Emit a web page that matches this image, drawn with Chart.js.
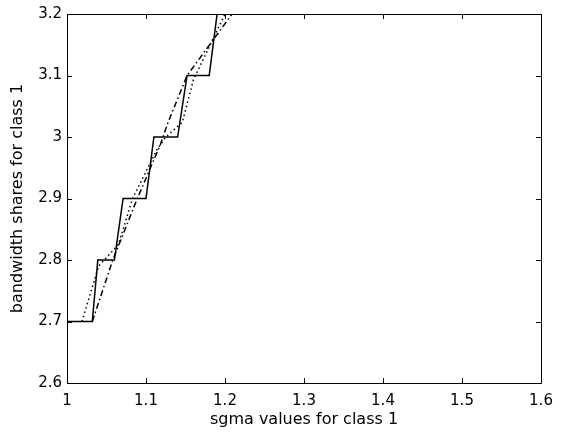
<!DOCTYPE html>
<html lang="en">
<head>
  <meta charset="UTF-8">
  <title>Bandwidth shares vs sigma</title>
  <script src="https://cdn.jsdelivr.net/npm/chart.js"></script>
  <style>
    html, body {
      margin: 0;
      padding: 0;
      background-color: #fff;
    }
    #chartContainer {
      width: 562px;
      height: 437px;
    }
  </style>
</head>
<body>
  <div id="chartContainer">
    <canvas id="shareChart" width="562" height="437"></canvas>
  </div>

  <script>
    // solid line: staircase of shares
    const stairX = [1, 1.032, 1.039, 1.06, 1.071, 1.10, 1.11, 1.14, 1.152, 1.18, 1.19, 1.6];
    const stairY = [2.7, 2.7, 2.8, 2.8, 2.9, 2.9, 3.0, 3.0, 3.1, 3.1, 3.2, 3.2];

    // dotted line
    const dotX = [1.019, 1.04, 1.065, 1.083, 1.114, 1.125, 1.146, 1.16, 1.2, 1.6];
    const dotY = [2.7, 2.79, 2.825, 2.9, 2.98, 3.0, 3.024, 3.093, 3.2, 3.2];

    // dash-dot line
    const dashX = [1.032, 1.058, 1.089, 1.118, 1.128, 1.146, 1.152, 1.209, 1.6];
    const dashY = [2.7, 2.8, 2.9, 2.987, 3.024, 3.081, 3.1, 3.2, 3.2];

    const xTicks = [1, 1.1, 1.2, 1.3, 1.4, 1.5, 1.6];
    const yTicks = [2.6, 2.7, 2.8, 2.9, 3.0, 3.1, 3.2];

    const toPoints = (xs, ys) => xs.map((x, i) => ({ x: x, y: ys[i] }));
    const fmt = v => String(Number(v.toFixed(1)));

    // matlab style box with inward ticks
    const boxTicks = {
      id: 'boxTicks',
      afterDatasetsDraw(chart) {
        const { ctx, chartArea: a, scales } = chart;
        ctx.save();
        ctx.strokeStyle = '#000';
        ctx.lineWidth = 1;
        ctx.beginPath();
        ctx.rect(a.left + 0.5, a.top + 0.5, a.right - a.left, a.bottom - a.top);
        xTicks.forEach(t => {
          const px = Math.round(scales.x.getPixelForValue(t)) + 0.5;
          ctx.moveTo(px, a.bottom); ctx.lineTo(px, a.bottom - 5);
          ctx.moveTo(px, a.top); ctx.lineTo(px, a.top + 5);
        });
        yTicks.forEach(t => {
          const py = Math.round(scales.y.getPixelForValue(t)) + 0.5;
          ctx.moveTo(a.left, py); ctx.lineTo(a.left + 5, py);
          ctx.moveTo(a.right, py); ctx.lineTo(a.right - 5, py);
        });
        ctx.stroke();
        ctx.restore();
      }
    };

    const font = { family: '"DejaVu Sans", Arial, sans-serif', size: 15 };
    const titleFont = { family: '"DejaVu Sans", Arial, sans-serif', size: 16 };

    new Chart(document.getElementById('shareChart'), {
      type: 'scatter',
      data: {
        datasets: [
          {
            label: 'solid',
            data: toPoints(stairX, stairY),
            showLine: true,
            borderColor: '#000',
            borderWidth: 1.5,
            pointRadius: 0
          },
          {
            label: 'dotted',
            data: toPoints(dotX, dotY),
            showLine: true,
            borderColor: '#000',
            borderWidth: 1.5,
            borderDash: [1.5, 3],
            pointRadius: 0
          },
          {
            label: 'dash-dot',
            data: toPoints(dashX, dashY),
            showLine: true,
            borderColor: '#000',
            borderWidth: 1.5,
            borderDash: [6, 3, 1.5, 3],
            pointRadius: 0
          }
        ]
      },
      options: {
        responsive: false,
        animation: false,
        layout: {
          padding: { top: 14, right: 21, left: 0, bottom: 0 }
        },
        plugins: {
          legend: { display: false },
          tooltip: { enabled: false }
        },
        scales: {
          x: {
            type: 'linear',
            min: 1,
            max: 1.6,
            afterBuildTicks: s => { s.ticks = xTicks.map(v => ({ value: v })); },
            afterFit: s => { s.height = 54; },
            grid: { display: false, drawTicks: false },
            border: { display: false },
            ticks: {
              color: '#000',
              font: font,
              padding: 9,
              maxRotation: 0,
              callback: v => fmt(v)
            },
            title: {
              display: true,
              text: 'sgma values for class 1',
              color: '#000',
              font: titleFont,
              padding: { top: 0, bottom: 8 }
            }
          },
          y: {
            min: 2.6,
            max: 3.2,
            afterBuildTicks: s => { s.ticks = yTicks.map(v => ({ value: v })); },
            afterFit: s => { s.width = 67; },
            grid: { display: false, drawTicks: false },
            border: { display: false },
            ticks: {
              color: '#000',
              font: font,
              padding: 5,
              callback: v => fmt(v)
            },
            title: {
              display: true,
              text: 'bandwidth shares for class 1',
              color: '#000',
              font: titleFont,
              padding: { top: 8, bottom: 0 }
            }
          }
        }
      },
      plugins: [boxTicks]
    });
  </script>
</body>
</html>
